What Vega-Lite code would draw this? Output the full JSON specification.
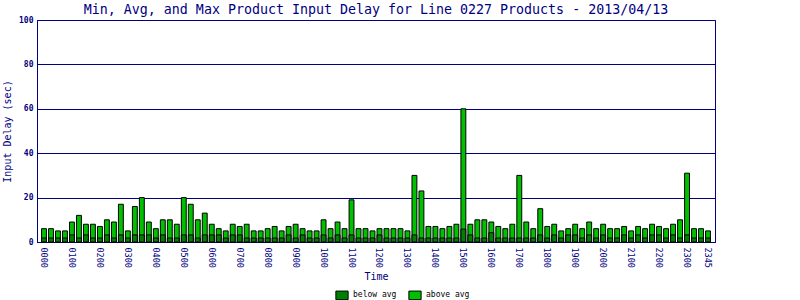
{
  "$schema": "https://vega.github.io/schema/vega-lite/v6.json",
  "width": 678,
  "height": 222,
  "autosize": {"type": "none"},
  "padding": {"left": 37, "top": 20, "right": 85, "bottom": 58},
  "background": "white",
  "title": {
    "text": "Min, Avg, and Max Product Input Delay for Line 0227 Products - 2013/04/13",
    "font": "DejaVu Sans Mono",
    "fontSize": 13.3,
    "fontWeight": "normal",
    "color": "#000080",
    "anchor": "middle",
    "offset": 0
  },
  "data": {
    "values": [
      {"t": "0000", "avg": 1.8, "max": 6}, {"t": "0015", "avg": 1.8, "max": 6}, {"t": "0030", "avg": 1.8, "max": 5}, {"t": "0045", "avg": 1.8, "max": 5},
      {"t": "0100", "avg": 3.2, "max": 9}, {"t": "0115", "avg": 1.8, "max": 12}, {"t": "0130", "avg": 3.2, "max": 8}, {"t": "0145", "avg": 1.8, "max": 8},
      {"t": "0200", "avg": 1.8, "max": 7}, {"t": "0215", "avg": 3.2, "max": 10}, {"t": "0230", "avg": 1.8, "max": 9}, {"t": "0245", "avg": 3.2, "max": 17},
      {"t": "0300", "avg": 1.8, "max": 5}, {"t": "0315", "avg": 3.2, "max": 16}, {"t": "0330", "avg": 3.2, "max": 20}, {"t": "0345", "avg": 3.2, "max": 9},
      {"t": "0400", "avg": 1.8, "max": 6}, {"t": "0415", "avg": 3.2, "max": 10}, {"t": "0430", "avg": 1.8, "max": 10}, {"t": "0445", "avg": 1.8, "max": 8},
      {"t": "0500", "avg": 3.2, "max": 20}, {"t": "0515", "avg": 3.2, "max": 17}, {"t": "0530", "avg": 1.8, "max": 10}, {"t": "0545", "avg": 3.2, "max": 13},
      {"t": "0600", "avg": 3.2, "max": 8}, {"t": "0615", "avg": 3.2, "max": 6}, {"t": "0630", "avg": 1.8, "max": 5}, {"t": "0645", "avg": 3.2, "max": 8},
      {"t": "0700", "avg": 3.2, "max": 7}, {"t": "0715", "avg": 1.8, "max": 8}, {"t": "0730", "avg": 1.8, "max": 5}, {"t": "0745", "avg": 1.8, "max": 5},
      {"t": "0800", "avg": 1.8, "max": 6}, {"t": "0815", "avg": 1.8, "max": 7}, {"t": "0830", "avg": 1.8, "max": 5}, {"t": "0845", "avg": 3.2, "max": 7},
      {"t": "0900", "avg": 1.8, "max": 8}, {"t": "0915", "avg": 3.2, "max": 6}, {"t": "0930", "avg": 1.8, "max": 5}, {"t": "0945", "avg": 1.8, "max": 5},
      {"t": "1000", "avg": 3.2, "max": 10}, {"t": "1015", "avg": 1.8, "max": 6}, {"t": "1030", "avg": 3.2, "max": 9}, {"t": "1045", "avg": 1.8, "max": 6},
      {"t": "1100", "avg": 3.2, "max": 19}, {"t": "1115", "avg": 1.8, "max": 6}, {"t": "1130", "avg": 1.8, "max": 6}, {"t": "1145", "avg": 1.8, "max": 5},
      {"t": "1200", "avg": 3.2, "max": 6}, {"t": "1215", "avg": 1.8, "max": 6}, {"t": "1230", "avg": 1.8, "max": 6}, {"t": "1245", "avg": 1.8, "max": 6},
      {"t": "1300", "avg": 1.8, "max": 5}, {"t": "1315", "avg": 3.2, "max": 30}, {"t": "1330", "avg": 1.8, "max": 23}, {"t": "1345", "avg": 1.8, "max": 7},
      {"t": "1400", "avg": 1.8, "max": 7}, {"t": "1415", "avg": 1.8, "max": 6}, {"t": "1430", "avg": 1.8, "max": 7}, {"t": "1445", "avg": 1.8, "max": 8},
      {"t": "1500", "avg": 5.8, "max": 60}, {"t": "1515", "avg": 3.2, "max": 8}, {"t": "1530", "avg": 1.8, "max": 10}, {"t": "1545", "avg": 1.8, "max": 10},
      {"t": "1600", "avg": 4.2, "max": 9}, {"t": "1615", "avg": 1.8, "max": 7}, {"t": "1630", "avg": 1.8, "max": 6}, {"t": "1645", "avg": 1.8, "max": 8},
      {"t": "1700", "avg": 1.8, "max": 30}, {"t": "1715", "avg": 1.8, "max": 9}, {"t": "1730", "avg": 1.8, "max": 6}, {"t": "1745", "avg": 3.2, "max": 15},
      {"t": "1800", "avg": 1.8, "max": 7}, {"t": "1815", "avg": 3.2, "max": 8}, {"t": "1830", "avg": 1.8, "max": 5}, {"t": "1845", "avg": 3.2, "max": 6},
      {"t": "1900", "avg": 3.2, "max": 8}, {"t": "1915", "avg": 1.8, "max": 6}, {"t": "1930", "avg": 3.2, "max": 9}, {"t": "1945", "avg": 1.8, "max": 6},
      {"t": "2000", "avg": 3.2, "max": 8}, {"t": "2015", "avg": 1.8, "max": 6}, {"t": "2030", "avg": 1.8, "max": 6}, {"t": "2045", "avg": 3.2, "max": 7},
      {"t": "2100", "avg": 1.8, "max": 5}, {"t": "2115", "avg": 3.2, "max": 7}, {"t": "2130", "avg": 1.8, "max": 6}, {"t": "2145", "avg": 3.2, "max": 8},
      {"t": "2200", "avg": 3.2, "max": 7}, {"t": "2215", "avg": 1.8, "max": 6}, {"t": "2230", "avg": 3.2, "max": 8}, {"t": "2245", "avg": 1.8, "max": 10},
      {"t": "2300", "avg": 3.2, "max": 31}, {"t": "2315", "avg": 1.8, "max": 6}, {"t": "2330", "avg": 1.8, "max": 6}, {"t": "2345", "avg": 1.8, "max": 5}
    ]
  },
  "encoding": {
    "x": {
      "field": "t",
      "type": "ordinal",
      "sort": null,
      "scale": {"paddingInner": 0.3, "paddingOuter": 0.65},
      "axis": {
        "title": "Time",
        "labelExpr": "(substring(datum.label, 2) == '00' || datum.label == '2345') ? datum.label : ''",
        "labelAngle": 90,
        "labelOverlap": false,
        "ticks": false,
        "domainColor": "#000080",
        "labelColor": "#000080",
        "titleColor": "#000080",
        "labelFont": "DejaVu Sans Mono",
        "labelFontSize": 8.5,
        "titleFont": "DejaVu Sans Mono",
        "titleFontSize": 10,
        "titleFontWeight": "normal",
        "labelPadding": 5,
        "titlePadding": 4
      }
    }
  },
  "layer": [
    {
      "mark": {"type": "bar", "stroke": "black", "strokeWidth": 1},
      "encoding": {
        "y": {
          "field": "max",
          "type": "quantitative",
          "title": "Input Delay (sec)",
          "scale": {"domain": [0, 100]},
          "axis": {
            "values": [0, 20, 40, 60, 80, 100],
            "grid": true,
            "gridColor": "#000080",
            "gridOpacity": 1,
            "ticks": false,
            "domainColor": "#000080",
            "labelColor": "#000080",
            "labelFont": "DejaVu Sans Mono",
            "labelFontSize": 8,
            "labelFontWeight": "bold",
            "labelPadding": 4,
            "titleFont": "DejaVu Sans Mono",
            "titleFontSize": 10,
            "titleFontWeight": "normal",
            "titleColor": "#000080",
            "titlePadding": 6
          }
        },
        "color": {
          "datum": "above avg",
          "scale": {"domain": ["below avg", "above avg"], "range": ["#008000", "#00c000"]},
          "legend": {
            "orient": "none",
            "legendX": 298,
            "legendY": 268,
            "direction": "horizontal",
            "title": null,
            "symbolType": "M-1,-0.7H1V0.7H-1Z",
            "symbolSize": 150,
            "symbolStrokeColor": "#808080",
            "symbolStrokeWidth": 1,
            "labelFont": "DejaVu Sans Mono",
            "labelFontSize": 8,
            "labelColor": "#000000",
            "columnPadding": 9,
            "labelOffset": 4,
            "padding": 0
          }
        }
      }
    },
    {
      "mark": {"type": "bar", "stroke": "black", "strokeWidth": 1},
      "encoding": {
        "y": {"field": "avg", "type": "quantitative", "title": "Input Delay (sec)"},
        "color": {"datum": "below avg"}
      }
    }
  ],
  "config": {
    "view": {"stroke": "#000080", "strokeWidth": 1}
  }
}
